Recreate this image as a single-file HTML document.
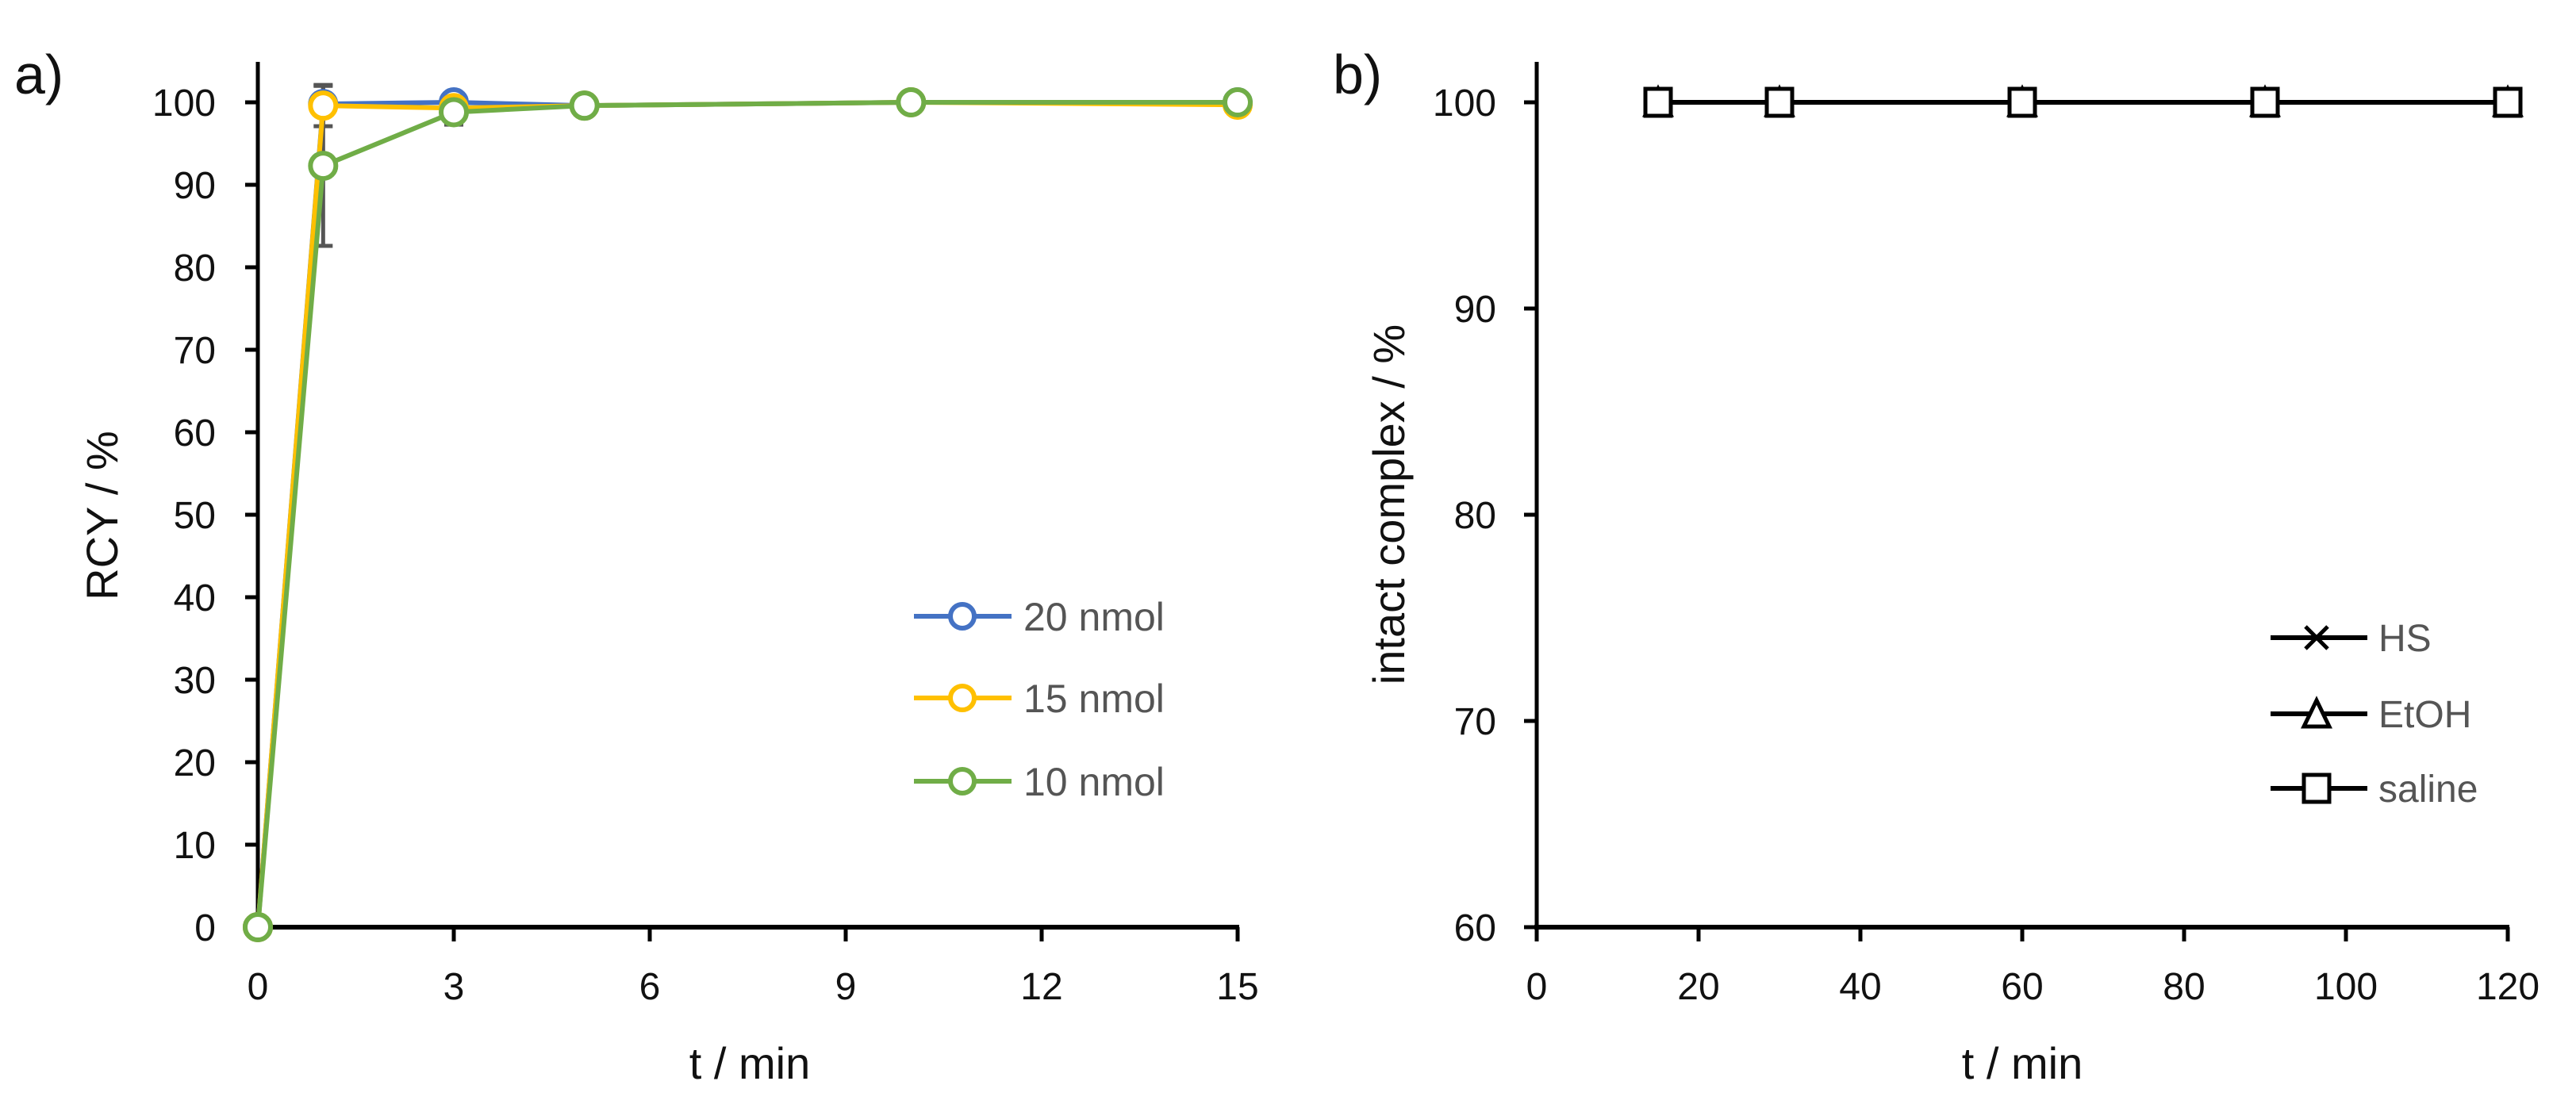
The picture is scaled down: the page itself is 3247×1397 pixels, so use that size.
<!DOCTYPE html>
<html><head><meta charset="utf-8"><style>
html,body{margin:0;padding:0;background:#fff}
svg{display:block}
text{font-family:"Liberation Sans",sans-serif}
</style></head><body>
<svg id="c" width="3247" height="1397" viewBox="0 0 3247 1397" xmlns="http://www.w3.org/2000/svg"></svg>
<script>
const aX=[0,1,3,5,10,15];
const a20=[0,99.8,100,99.6,100,100];
const a15=[0,99.6,99.3,99.6,100,99.7];
const a10=[0,92.3,98.8,99.6,100,100];
const a15err=[0,2.5,0,0,0,0];
const a10err=[0,9.7,1.5,0,0,0];
const aXTicks=[0,3,6,9,12,15];
const aYTicks=[0,10,20,30,40,50,60,70,80,90,100];
const bX=[15,30,60,90,120];
const bHS=[100,100,100,100,100];
const bEtOH=[100,100,100,100,100];
const bSaline=[100,100,100,100,100];
const bXTicks=[0,20,40,60,80,100,120];
const bYTicks=[60,70,80,90,100];

const S="http://www.w3.org/2000/svg";
const svg=document.getElementById('c');
function el(t,a,p){const e=document.createElementNS(S,t);for(const k in a)e.setAttribute(k,a[k]);(p||svg).appendChild(e);return e;}
function txt(s,a,p){const e=el('text',a,p);e.textContent=s;return e;}

// ---------- panel a ----------
const ax=v=>325+(v-0)/15*(1560-325);
const ay=v=>1169-(v-0)/100*(1169-129);
const ga=el('g',{});


let t=txt('a)',{x:18,y:118,'font-size':70,fill:'#111'},ga);

let l=el('line',{x1:325,y1:78,x2:325,y2:1171,stroke:'#000','stroke-width':5},ga);

l=el('line',{x1:322,y1:1169,x2:1562,y2:1169,stroke:'#000','stroke-width':6},ga);

aYTicks.forEach(v=>{
 el('line',{x1:309,y1:ay(v),x2:325,y2:ay(v),stroke:'#000','stroke-width':5},ga);
 const e=txt(String(v),{x:272,y:ay(v)+17,'font-size':48,'text-anchor':'end',fill:'#111'},ga);
 
});
aXTicks.forEach(v=>{
 el('line',{x1:ax(v),y1:1169,x2:ax(v),y2:1187,stroke:'#000','stroke-width':5},ga);
 const e=txt(String(v),{x:ax(v),y:1260,'font-size':48,'text-anchor':'middle',fill:'#111'},ga);
 
});
t=txt('t / min',{x:945,y:1360,'font-size':56,'text-anchor':'middle',fill:'#111'},ga);

t=txt('RCY / %',{x:0,y:0,'font-size':56,'text-anchor':'middle',fill:'#111',transform:'translate(148,650) rotate(-90)'},ga);


function errbars(vals,errs,name){
 vals.forEach((v,i)=>{ if(!errs[i])return;
  const x=ax(aX[i]);
  const g=el('g',{stroke:'#555','stroke-width':5},ga);
  
  el('line',{x1:x,y1:ay(v-errs[i]),x2:x,y2:ay(v+errs[i])},g);
  el('line',{x1:x-12,y1:ay(v-errs[i]),x2:x+12,y2:ay(v-errs[i])},g);
  el('line',{x1:x-12,y1:ay(v+errs[i]),x2:x+12,y2:ay(v+errs[i])},g);
 });
}
errbars(a15,a15err,'error-bar-15nmol');
errbars(a10,a10err,'error-bar-10nmol');
function seriesA(vals,col,name){
 const g=el('g',{},ga);
 
 el('polyline',{points:vals.map((v,i)=>ax(aX[i])+','+ay(v)).join(' '),fill:'none',stroke:col,'stroke-width':6},g);
 vals.forEach((v,i)=>{
  const c=el('circle',{cx:ax(aX[i]),cy:ay(v),r:16,fill:'#fff',stroke:col,'stroke-width':6},g);
  
 });
}
seriesA(a20,'#4472C4','20nmol');
seriesA(a15,'#FFC000','15nmol');
seriesA(a10,'#70AD47','10nmol');
[['20 nmol','#4472C4',777],['15 nmol','#FFC000',880],['10 nmol','#70AD47',985]].forEach(d=>{
 const g=el('g',{},ga);
 
 el('line',{x1:1152,y1:d[2],x2:1275,y2:d[2],stroke:d[1],'stroke-width':6},g);
 el('circle',{cx:1213,cy:d[2],r:15,fill:'#fff',stroke:d[1],'stroke-width':6},g);
 txt(d[0],{x:1290,y:d[2]+18,'font-size':50,fill:'#555'},g);
});

// ---------- panel b ----------
const bx=v=>1937+v/120*(3161-1937);
const by=v=>1169-(v-60)/40*(1169-129);
const gb=el('g',{});


t=txt('b)',{x:1680,y:118,'font-size':70,fill:'#111'},gb);

l=el('line',{x1:1937,y1:78,x2:1937,y2:1187,stroke:'#000','stroke-width':5},gb);

l=el('line',{x1:1934,y1:1169,x2:3163,y2:1169,stroke:'#000','stroke-width':6},gb);

bYTicks.forEach(v=>{
 el('line',{x1:1921,y1:by(v),x2:1937,y2:by(v),stroke:'#000','stroke-width':5},gb);
 const e=txt(String(v),{x:1886,y:by(v)+17,'font-size':48,'text-anchor':'end',fill:'#111'},gb);
 
});
bXTicks.forEach(v=>{
 el('line',{x1:bx(v),y1:1169,x2:bx(v),y2:1187,stroke:'#000','stroke-width':5},gb);
 const e=txt(String(v),{x:bx(v),y:1260,'font-size':48,'text-anchor':'middle',fill:'#111'},gb);
 
});
t=txt('t / min',{x:2549,y:1360,'font-size':56,'text-anchor':'middle',fill:'#111'},gb);

t=txt('intact complex / %',{x:0,y:0,'font-size':56,'text-anchor':'middle',fill:'#111',transform:'translate(1770,636) rotate(-90)'},gb);


function mark(type,x,y,p){
 if(type==='x'){const g=el('g',{stroke:'#000','stroke-width':5},p);el('line',{x1:x-14,y1:y-14,x2:x+14,y2:y+14},g);el('line',{x1:x-14,y1:y+14,x2:x+14,y2:y-14},g);return g;}
 if(type==='tri')return el('polygon',{points:`${x},${y-17} ${x-16},${y+16} ${x+16},${y+16}`,fill:'#fff',stroke:'#000','stroke-width':5},p);
 return el('rect',{x:x-16,y:y-17,width:32,height:34,fill:'#fff',stroke:'#000','stroke-width':5},p);
}
function seriesB(vals,type,name){
 const g=el('g',{},gb);
 
 el('polyline',{points:vals.map((v,i)=>bx(bX[i])+','+by(v)).join(' '),fill:'none',stroke:'#000','stroke-width':6},g);
 vals.forEach((v,i)=>{
  const m=mark(type,bx(bX[i]),by(v),g);
  
 });
}
seriesB(bHS,'x','hs');
seriesB(bEtOH,'tri','etoh');
seriesB(bSaline,'sq','saline');
[['HS','x',804],['EtOH','tri',900],['saline','sq',994]].forEach(d=>{
 const g=el('g',{},gb);
 
 el('line',{x1:2862,y1:d[2],x2:2984,y2:d[2],stroke:'#000','stroke-width':6},g);
 mark(d[1],2920,d[2],g);
 txt(d[0],{x:2998,y:d[2]+17,'font-size':48,fill:'#555'},g);
});
</script>
</body></html>
